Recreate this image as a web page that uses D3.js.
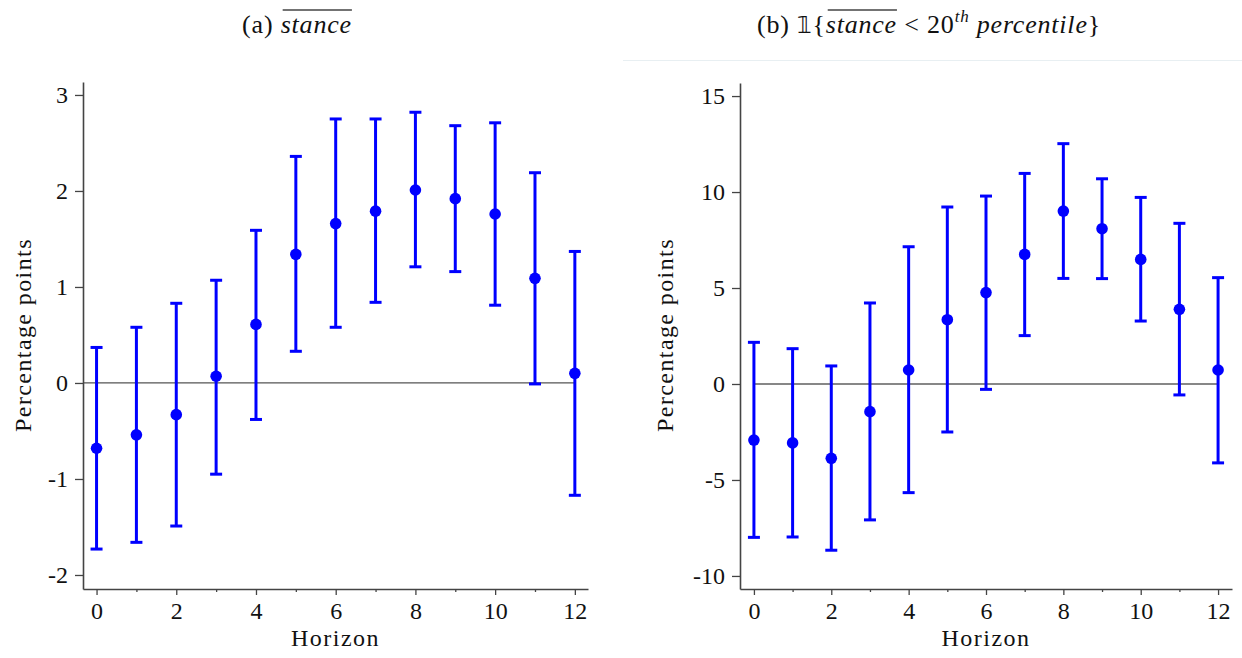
<!DOCTYPE html>
<html>
<head>
<meta charset="utf-8">
<script src="https://cdn.jsdelivr.net/npm/d3@7"></script>
<style>
  html, body { margin: 0; padding: 0; background: #fff; }
  svg { display: block; }
</style>
</head>
<body>
<svg id="chart" width="1242" height="658"></svg>
<script>
// ---------- data ----------
const horizons = [0, 1, 2, 3, 4, 5, 6, 7, 8, 9, 10, 11, 12];

// Panel (a): stance
const stanceCoef = [-0.68, -0.54, -0.33, 0.07, 0.61, 1.34, 1.66, 1.79, 2.01, 1.92, 1.76, 1.09, 0.10];
const stanceLow  = [-1.73, -1.66, -1.49, -0.95, -0.38, 0.33, 0.58, 0.84, 1.21, 1.16, 0.81, -0.01, -1.17];
const stanceHigh = [0.37, 0.58, 0.83, 1.07, 1.59, 2.36, 2.75, 2.75, 2.82, 2.68, 2.71, 2.19, 1.37];

// Panel (b): 1{stance < 20th percentile}
const pctCoef = [-2.92, -3.07, -3.87, -1.44, 0.73, 3.35, 4.76, 6.75, 9.01, 8.09, 6.49, 3.89, 0.73];
const pctLow  = [-7.99, -7.97, -8.66, -7.08, -5.66, -2.50, -0.28, 2.52, 5.50, 5.49, 3.28, -0.57, -4.11];
const pctHigh = [2.17, 1.84, 0.94, 4.22, 7.15, 9.22, 9.79, 10.97, 12.52, 10.69, 9.72, 8.37, 5.54];

const yTicksA = [-2, -1, 0, 1, 2, 3];
const yTicksB = [-10, -5, 0, 5, 10, 15];
const xMajorTicks = [0, 2, 4, 6, 8, 10, 12];
const xMinorTicks = [1, 3, 5, 7, 9, 11];

const xLabel = "Horizon";
const yLabel = "Percentage points";

// ---------- drawing ----------
const svg = d3.select("#chart");
const BLUE = "#0000ff";
const AXIS = "#444";
const FONT = 24;
const FAM = "Liberation Serif";
const TXT = "#111";

// faint separator above right panel
svg.append("line")
  .attr("x1", 623).attr("x2", 1242).attr("y1", 60.5).attr("y2", 60.5)
  .attr("stroke", "#e8eff2").attr("stroke-width", 1);

const fmt = d => String(d); // plain hyphen-minus like the reference

function panel(opts) {
  const { left, right, top, bottom, xDomain, yDomain, yTicks, coef, low, high, zeroStartAtAxis, zeroColor, yLabelX } = opts;
  const x = d3.scaleLinear().domain(xDomain).range([left, right]);
  const y = d3.scaleLinear().domain(yDomain).range([bottom, top]);
  const g = svg.append("g");

  // zero line
  g.append("line")
    .attr("x1", zeroStartAtAxis ? left : x(0)).attr("x2", x(12))
    .attr("y1", y(0)).attr("y2", y(0))
    .attr("stroke", zeroColor).attr("stroke-width", 1.2);

  // y axis
  const ya = g.append("g").attr("transform", `translate(${left},0)`)
    .call(d3.axisLeft(y).tickValues(yTicks).tickFormat(fmt).tickSize(8).tickSizeOuter(0).tickPadding(7))
    .attr("font-family", FAM).attr("font-size", FONT);
  ya.select(".domain").attr("stroke", AXIS).attr("stroke-width", 1.6);
  ya.selectAll(".tick line").attr("stroke", AXIS).attr("stroke-width", 1.3);
  ya.selectAll(".tick text").attr("fill", TXT).style("font-family", FAM).style("font-size", FONT + "px");

  // x axis (major)
  const xa = g.append("g").attr("transform", `translate(0,${bottom})`)
    .call(d3.axisBottom(x).tickValues(xMajorTicks).tickFormat(fmt).tickSize(6).tickSizeOuter(0).tickPadding(7))
    .attr("font-family", FAM).attr("font-size", FONT);
  xa.select(".domain").attr("stroke", AXIS).attr("stroke-width", 1.6);
  xa.selectAll(".tick line").attr("stroke", AXIS).attr("stroke-width", 1.3);
  xa.selectAll(".tick text").attr("fill", TXT).style("font-family", FAM).style("font-size", FONT + "px");
  // x axis minor ticks
  g.append("g").attr("transform", `translate(0,${bottom})`)
    .call(d3.axisBottom(x).tickValues(xMinorTicks).tickFormat("").tickSize(3).tickSizeOuter(0))
    .call(s => s.select(".domain").remove())
    .selectAll(".tick line").attr("stroke", AXIS).attr("stroke-width", 1.3);

  // axis labels
  g.append("text")
    .attr("x", (left + right) / 2).attr("y", 646)
    .attr("text-anchor", "middle").attr("font-family", FAM).attr("font-size", FONT)
    .attr("fill", TXT).attr("letter-spacing", 1.5)
    .text(xLabel);
  g.append("text")
    .attr("transform", `translate(${yLabelX},335) rotate(-90)`)
    .attr("text-anchor", "middle").attr("font-family", FAM).attr("font-size", FONT)
    .attr("fill", TXT).attr("letter-spacing", 1.4)
    .text(yLabel);

  // error bars
  const data = horizons.map((h, i) => ({ h, c: coef[i], lo: low[i], hi: high[i] }));
  const eb = g.append("g").attr("stroke", BLUE).attr("stroke-width", 3);
  eb.selectAll(".v").data(data).join("line")
    .attr("x1", d => x(d.h)).attr("x2", d => x(d.h))
    .attr("y1", d => y(d.lo)).attr("y2", d => y(d.hi));
  eb.selectAll(".capHi").data(data).join("line")
    .attr("x1", d => x(d.h) - 6).attr("x2", d => x(d.h) + 6)
    .attr("y1", d => y(d.hi)).attr("y2", d => y(d.hi));
  eb.selectAll(".capLo").data(data).join("line")
    .attr("x1", d => x(d.h) - 6).attr("x2", d => x(d.h) + 6)
    .attr("y1", d => y(d.lo)).attr("y2", d => y(d.lo));
  g.selectAll(".pt").data(data).join("circle")
    .attr("cx", d => x(d.h)).attr("cy", d => y(d.c)).attr("r", 5.8)
    .attr("fill", BLUE);
}

panel({
  left: 83, right: 588, top: 82, bottom: 589,
  xDomain: [-0.34, 12.33], yDomain: [-2.146, 3.135], yTicks: yTicksA,
  coef: stanceCoef, low: stanceLow, high: stanceHigh,
  zeroStartAtAxis: true, zeroColor: "#555", yLabelX: 31
});
panel({
  left: 740, right: 1232, top: 83, bottom: 589,
  xDomain: [-0.36, 12.36], yDomain: [-10.68, 15.68], yTicks: yTicksB,
  coef: pctCoef, low: pctLow, high: pctHigh,
  zeroStartAtAxis: false, zeroColor: "#111", yLabelX: 673
});

// ---------- titles ----------
const TFONT = 26;
function overlineSpan(textEl, start, len) {
  const node = textEl.node();
  const a = node.getExtentOfChar(start);
  const b = node.getExtentOfChar(start + len - 1);
  svg.append("line")
    .attr("x1", a.x + 2).attr("x2", b.x + b.width)
    .attr("y1", 10).attr("y2", 10)
    .attr("stroke", "#444").attr("stroke-width", 1.3);
}

const tA = svg.append("text").attr("x", 297).attr("y", 33).attr("text-anchor", "middle")
  .attr("font-family", FAM).attr("font-size", TFONT).attr("fill", TXT).attr("letter-spacing", 0.8);
tA.append("tspan").text("(a) ");
tA.append("tspan").attr("font-style", "italic").text("stance");
overlineSpan(tA, 4, 6);

const tB = svg.append("text").attr("x", 929).attr("y", 33).attr("text-anchor", "middle")
  .attr("font-family", FAM).attr("font-size", TFONT).attr("fill", TXT).attr("letter-spacing", 0.8);
tB.append("tspan").text("(b) ");
tB.append("tspan").attr("font-family", "DejaVu Sans").attr("font-size", 23).text("\u{1D7D9}");
tB.append("tspan").text("{");
tB.append("tspan").attr("font-style", "italic").text("stance");
tB.append("tspan").text(" < 20");
tB.append("tspan").attr("font-style", "italic").attr("font-size", 17).attr("dy", -11).text("th");
tB.append("tspan").attr("font-style", "italic").attr("dy", 11).text(" percentile");
tB.append("tspan").text("}");
(function () {
  const full = tB.node().textContent;
  const idx = full.indexOf("stance");
  overlineSpan(tB, idx, 6);
})();
</script>
</body>
</html>
